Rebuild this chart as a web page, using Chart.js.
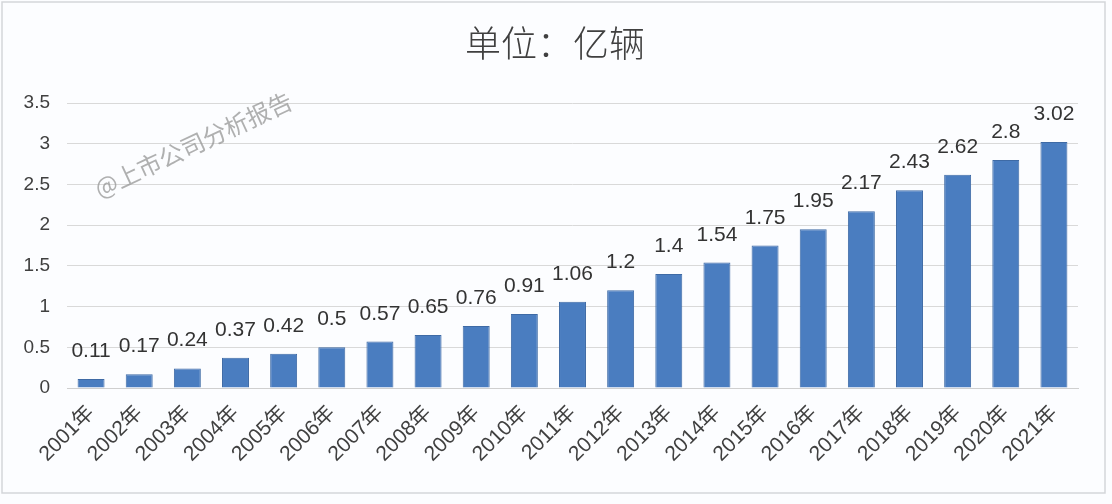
<!DOCTYPE html>
<html>
<head>
<meta charset="utf-8">
<script src="https://cdn.jsdelivr.net/npm/chart.js@4"></script>
<style>
    html, body { margin: 0; padding: 0; background: #fcfdff; }
    #wrap { width: 1112px; height: 504px; position: relative; }
</style>
</head>
<body>
<div id="wrap"><canvas id="sales-chart"></canvas></div>
<script>
// 汽车保有量 (单位：亿辆)
const years = ['2001年', '2002年', '2003年', '2004年', '2005年', '2006年', '2007年',
    '2008年', '2009年', '2010年', '2011年', '2012年', '2013年', '2014年',
    '2015年', '2016年', '2017年', '2018年', '2019年', '2020年', '2021年'];
const values = [0.11, 0.17, 0.24, 0.37, 0.42, 0.5, 0.57, 0.65, 0.76, 0.91, 1.06,
    1.2, 1.4, 1.54, 1.75, 1.95, 2.17, 2.43, 2.62, 2.8, 3.02];
const titleText = '单位：亿辆';
const watermark = '@上市公司分析报告';

const latin = '"Liberation Sans", "Noto Sans CJK SC", sans-serif';

// frame + background, like the exported excel chart
const framePlugin = {
    id: 'frame',
    beforeDraw(chart) {
        const ctx = chart.ctx;
        ctx.save();
        ctx.fillStyle = '#fcfdff';
        ctx.fillRect(0, 0, chart.width, chart.height);
        ctx.strokeStyle = '#d4d6da';
        ctx.lineWidth = 1.5;
        ctx.strokeRect(2, 2, 1103, 491);
        ctx.restore();
    }
};

// title is centred on the whole frame, not on the plot area
const titlePlugin = {
    id: 'frameTitle',
    afterDraw(chart) {
        const ctx = chart.ctx;
        ctx.save();
        ctx.font = '300 36px "Noto Sans CJK SC", sans-serif';
        ctx.fillStyle = '#404040';
        ctx.textAlign = 'center';
        ctx.textBaseline = 'middle';
        ctx.fillText(titleText, 555, 43);
        ctx.restore();
    }
};

// value labels above every bar
const valueLabels = {
    id: 'valueLabels',
    afterDatasetsDraw(chart) {
        const ctx = chart.ctx;
        const meta = chart.getDatasetMeta(0);
        ctx.save();
        ctx.font = '21px ' + latin;
        ctx.fillStyle = '#333333';
        ctx.textAlign = 'center';
        ctx.textBaseline = 'alphabetic';
        meta.data.forEach((bar, i) => {
            ctx.fillText(String(values[i]), bar.x, bar.y - 22);
        });
        ctx.restore();
    }
};

const watermarkPlugin = {
    id: 'watermark',
    afterDraw(chart) {
        const ctx = chart.ctx;
        ctx.save();
        ctx.translate(96, 190);
        ctx.rotate(-25 * Math.PI / 180);
        ctx.font = '24px "Noto Sans CJK SC", sans-serif';
        ctx.fillStyle = 'rgba(150, 150, 150, 0.75)';
        ctx.textBaseline = 'middle';
        ctx.fillText(watermark, 0, 0);
        ctx.restore();
    }
};

const ctx = document.getElementById('sales-chart').getContext('2d');
const salesChart = new Chart(ctx, {
    type: 'bar',
    data: {
        labels: years,
        datasets: [{
            data: values,
            backgroundColor: '#4a7dc0',
            borderColor: '#3e6aa5',
            borderWidth: 1,
            categoryPercentage: 1,
            barPercentage: 0.56
        }]
    },
    options: {
        responsive: true,
        maintainAspectRatio: false,
        animation: false,
        layout: { padding: { left: 0, right: 34, top: 103, bottom: 11 } },
        plugins: {
            legend: { display: false },
            tooltip: { enabled: false },
            title: { display: false }
        },
        scales: {
            x: {
                grid: { display: false },
                border: { display: true, color: '#cfcfcf', width: 1 },
                ticks: {
                    color: '#404040',
                    font: { family: latin, size: 21 },
                    minRotation: 45,
                    maxRotation: 45,
                    autoSkip: false,
                    padding: 5
                },
                afterFit(scale) { scale.height = 105; }
            },
            y: {
                min: 0,
                max: 3.5,
                grid: { color: '#d9d9d9', drawTicks: false },
                border: { display: false },
                ticks: {
                    stepSize: 0.5,
                    color: '#404040',
                    font: { family: latin, size: 19 },
                    padding: 17,
                    callback: v => String(v)
                },
                afterFit(scale) { scale.width = 67; }
            }
        }
    },
    plugins: [framePlugin, valueLabels, watermarkPlugin, titlePlugin]
});
</script>
</body>
</html>
